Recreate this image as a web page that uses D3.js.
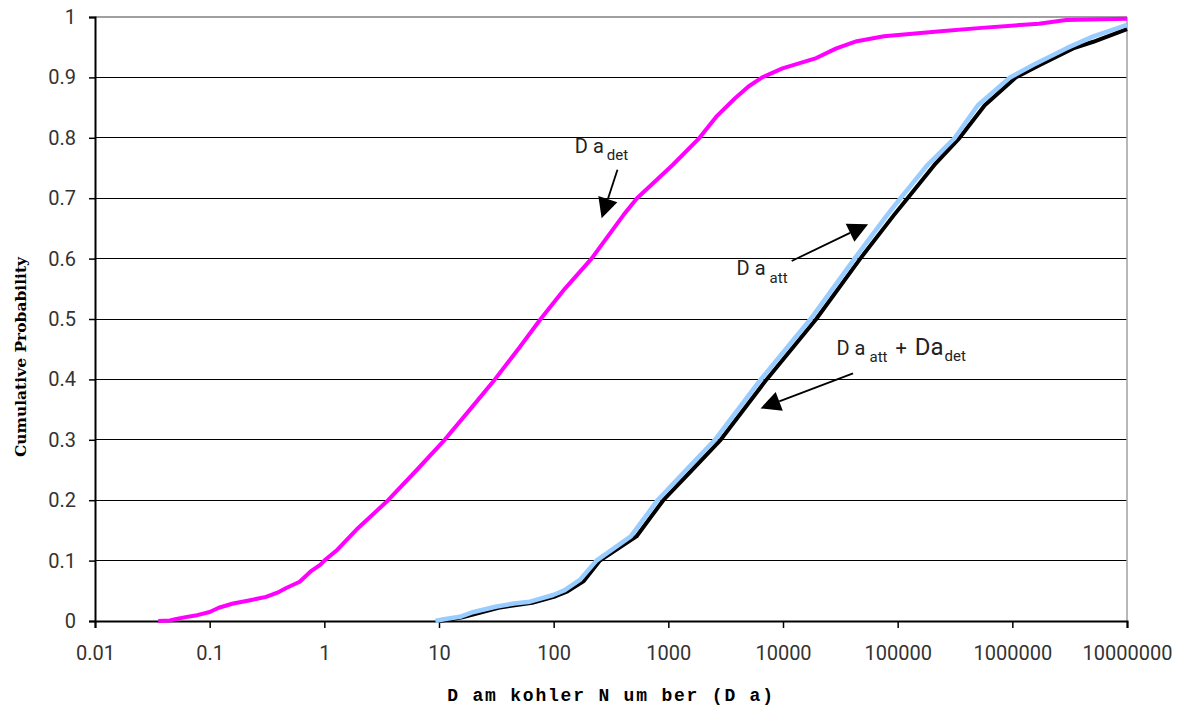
<!DOCTYPE html>
<html><head><meta charset="utf-8">
<script src="https://cdn.jsdelivr.net/npm/d3@7"></script>
<style>body{margin:0;background:#fff}</style>
</head><body><svg id="c" width="1178" height="710"></svg>
<script>
const xTicks = [0.01, 0.1, 1, 10, 100, 1000, 10000, 100000, 1000000, 10000000];
const xTickLabels = ["0.01", "0.1", "1", "10", "100", "1000", "10000", "100000", "1000000", "10000000"];
const yTicks = [0, 0.1, 0.2, 0.3, 0.4, 0.5, 0.6, 0.7, 0.8, 0.9, 1];
const yTickLabels = ["0", "0.1", "0.2", "0.3", "0.4", "0.5", "0.6", "0.7", "0.8", "0.9", "1"];

// Da_det cumulative distribution [Da, P]
const daDet = [
  [0.0356, 0], [0.045, 0.001], [0.05, 0.003], [0.06, 0.006], [0.075, 0.009], [0.1, 0.015],
  [0.12, 0.022], [0.16, 0.029], [0.22, 0.034], [0.31, 0.04], [0.4, 0.048], [0.47, 0.055],
  [0.61, 0.065], [0.76, 0.082], [0.92, 0.093], [1.0, 0.10], [1.3, 0.118], [1.9, 0.151],
  [3.6, 0.2], [6.4, 0.25], [11.2, 0.3], [18.6, 0.35], [30.7, 0.4], [49, 0.45], [77, 0.5],
  [125, 0.55], [214, 0.6], [406, 0.672], [533, 0.7], [1090, 0.755], [1870, 0.8], [2620, 0.835],
  [3800, 0.865], [5000, 0.885], [6580, 0.9], [9890, 0.915], [19500, 0.932], [29200, 0.948], [44000, 0.96],
  [76000, 0.968], [224000, 0.976], [537000, 0.982], [1700000, 0.989], [2950000, 0.995],
  [10000000, 0.997]
];
// Da_att cumulative distribution
const daAtt = [
  [9.3, 0], [11, 0.003], [15.2, 0.007], [20, 0.015], [31.8, 0.024], [45, 0.029], [62, 0.032],
  [99, 0.043], [125, 0.051], [169, 0.068], [236, 0.1], [471, 0.14], [805, 0.2], [1430, 0.25],
  [2550, 0.3], [6400, 0.4], [17400, 0.5], [42100, 0.6], [80900, 0.672], [106000, 0.7],
  [182000, 0.755], [315000, 0.8], [501000, 0.854], [955000, 0.9], [1500000, 0.92],
  [2950000, 0.948], [5080000, 0.968], [10000000, 0.987]
];
// Da_att + Da_det cumulative distribution
const daSum = [
  [10, 0], [12, 0.002], [16, 0.006], [33, 0.022], [65, 0.03], [104, 0.041], [132, 0.049],
  [183, 0.066], [253, 0.1], [527, 0.14], [904, 0.2], [1610, 0.25], [2860, 0.3], [7200, 0.4],
  [19500, 0.5], [47200, 0.6], [92700, 0.672], [122000, 0.7], [209000, 0.755], [347000, 0.8],
  [575000, 0.854], [1070000, 0.9], [1720000, 0.92], [3390000, 0.948], [5080000, 0.959],
  [10000000, 0.980]
];

// annotation arrows: from [Da, P] to [Da, P]
const arrows = [
  {from: [360, 0.747], to: [262, 0.667]},
  {from: [11900, 0.596], to: [55200, 0.657]},
  {from: [40800, 0.410], to: [6370, 0.352]}
];

const svg = d3.select("#c");
const L = 95, R = 1127, T = 17, B = 621;
const x = d3.scaleLog().domain([0.01, 1e7]).range([L, R]);
const y = d3.scaleLinear().domain([0, 1]).range([B, T]);

svg.append("rect").attr("width", 1178).attr("height", 710).attr("fill", "#fff");

// gridlines
svg.append("g").selectAll("line").data(yTicks.filter(d => d > 0)).join("line")
  .attr("x1", L).attr("x2", R).attr("y1", d => y(d)).attr("y2", d => y(d))
  .attr("stroke", d => d === 1 ? "#a0a0a0" : "#000").attr("stroke-width", d => d === 1 ? 1.5 : 1)
  .attr("shape-rendering", "crispEdges");
// right border
svg.append("line").attr("x1", R).attr("x2", R).attr("y1", T).attr("y2", B)
  .attr("stroke", "#a0a0a0").attr("stroke-width", 1.5);

const tickFont = "Roboto, 'DejaVu Sans', sans-serif";

const yAxis = svg.append("g").attr("transform", `translate(${L},0)`)
  .call(d3.axisLeft(y).tickValues(yTicks).tickSize(6).tickPadding(13)
    .tickFormat((d, i) => yTickLabels[i]));
const xAxis = svg.append("g").attr("transform", `translate(0,${B})`)
  .call(d3.axisBottom(x).tickValues(xTicks).tickSize(7).tickPadding(18)
    .tickFormat((d, i) => xTickLabels[i]));
[yAxis, xAxis].forEach(g => {
  g.select(".domain").attr("stroke", "#000").attr("stroke-width", 2);
  g.selectAll(".tick line").attr("stroke", "#000").attr("stroke-width", 1.5);
  g.selectAll(".tick text").attr("font-family", tickFont).attr("font-size", 20)
    .attr("fill", "#333");
});

// curves
const line = d3.line().x(d => x(d[0])).y(d => y(d[1]));
svg.append("path").datum(daSum).attr("d", line).attr("fill", "none")
  .attr("stroke", "#000").attr("stroke-width", 4).attr("stroke-linejoin", "round");
svg.append("path").datum(daAtt).attr("d", line).attr("fill", "none")
  .attr("stroke", "#99ccff").attr("stroke-width", 4.5).attr("stroke-linejoin", "round");
svg.append("path").datum(daDet).attr("d", line).attr("fill", "none")
  .attr("stroke", "#ff00ff").attr("stroke-width", 4).attr("stroke-linejoin", "round");

// arrows
const ag = svg.append("g");
arrows.forEach(a => {
  const x1 = x(a.from[0]), y1 = y(a.from[1]), x2 = x(a.to[0]), y2 = y(a.to[1]);
  const ang = Math.atan2(y2 - y1, x2 - x1);
  const hl = 20, hw = 10;
  const bx = x2 - hl * Math.cos(ang), by = y2 - hl * Math.sin(ang);
  ag.append("line").attr("x1", x1).attr("y1", y1).attr("x2", bx).attr("y2", by)
    .attr("stroke", "#000").attr("stroke-width", 1.8);
  const px = -Math.sin(ang) * hw, py = Math.cos(ang) * hw;
  ag.append("path").attr("d", `M${x2},${y2}L${bx + px},${by + py}L${bx - px},${by - py}Z`)
    .attr("fill", "#000");
});

// labels
const annFont = "Roboto, 'DejaVu Sans', sans-serif";
function label(pos, parts) {
  const t = svg.append("text").attr("x", x(pos[0])).attr("y", y(pos[1]))
    .attr("font-family", annFont).attr("fill", "#222");
  parts.forEach(p => {
    t.append("tspan").text(p.t).attr("font-size", p.s).attr("dy", p.dy || 0)
      .attr("dx", p.dx || 0);
  });
}
label([153, 0.775], [{t: "D a", s: 20}, {t: "det", s: 15, dy: 7, dx: 3}]);
label([3940, 0.573], [{t: "D a", s: 20}, {t: "att", s: 15, dy: 8, dx: 4}]);
label([29300, 0.440], [{t: "D a", s: 20}, {t: "att", s: 15, dy: 7, dx: 4},
  {t: " + ", s: 20, dy: -7, dx: 3}, {t: "Da", s: 24, dx: 3}, {t: "det", s: 15, dy: 6, dx: 1}]);

// axis titles
svg.append("text").attr("x", 611).attr("y", 701).attr("text-anchor", "middle")
  .attr("font-family", "'Liberation Mono', 'DejaVu Sans Mono', monospace").attr("font-weight", "bold")
  .attr("font-size", 18).attr("letter-spacing", 1.8).attr("fill", "#000")
  .text("D am kohler N um ber (D a)");
svg.append("text").attr("transform", `translate(26,${(T + B) / 2 + 38}) rotate(-90)`)
  .attr("text-anchor", "middle")
  .attr("font-family", "'DejaVu Serif', 'Liberation Serif', serif").attr("font-weight", "bold")
  .attr("font-size", 15.5).attr("fill", "#000")
  .text("Cumulative Probability");
</script></body></html>
